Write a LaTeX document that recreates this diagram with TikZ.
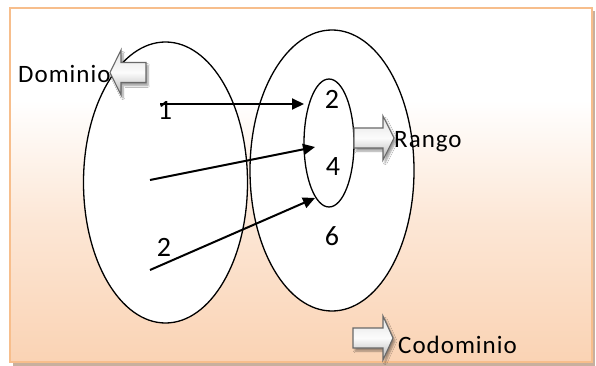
\documentclass[tikz,border=0pt]{standalone}
\usepackage{fontspec}
\setmainfont{Carlito}
\usetikzlibrary{shapes.geometric,arrows.meta,shadows.blur}
\definecolor{frameborder}{RGB}{247,190,140}
\definecolor{peach}{RGB}{250,211,180}
\definecolor{arrowedge}{RGB}{105,105,105}
\definecolor{frameshadow}{RGB}{200,176,158}
\pgfdeclareverticalshading{bgshade}{100bp}{color(0bp)=(peach); color(25bp)=(peach); color(45bp)=(peach!55!white); color(62bp)=(white); color(100bp)=(white)}
\begin{document}
\begin{tikzpicture}[x=1pt,y=-1pt,
  setel/.style={ellipse, draw, fill=white, line width=1.3pt, inner sep=0pt},
  lbl/.style={inner sep=0pt, anchor=base west, font=\fontsize{25}{30}\selectfont\addfontfeature{LetterSpace=4}},
  num/.style={inner sep=0pt, font=\fontsize{28}{32}\selectfont},
  maparrow/.style={line width=2pt, -{Triangle[length=12pt,width=11pt]}},
  blockarrow/.style={draw=arrowedge, line width=1.1pt, top color=gray!22, bottom color=gray!60, middle color=gray!3,
    blur shadow={shadow xshift=2pt, shadow yshift=-3pt, shadow blur steps=6, shadow opacity=40}}
]
\useasboundingbox (0,0) rectangle (596,366);
% frame
\fill[frameshadow] (13,11) rectangle (595,366);
\path[draw=frameborder, line width=2pt, shading=bgshade] (10,8) rectangle (592,362);
% sets
\node[setel, minimum width=164pt, minimum height=281pt] (dom) at (165.5,182.5) {};
\node[setel, minimum width=164pt, minimum height=281pt] (cod) at (332,170.5) {};
\node[setel, minimum width=50pt, minimum height=128pt] (ran) at (329,143) {};
% elements
\node[num] (a1) at (165,110) {1};
\node[num] (a2) at (164,247) {2};
\node[num] (b2) at (332,99) {2};
\node[num] (b4) at (333,167) {4};
\node[num] (b6) at (332,236) {6};
% mapping arrows
\coordinate (s1) at (160,104); \coordinate (t1) at (304,104);
\coordinate (s2) at (150,180); \coordinate (t2) at (315,147);
\coordinate (s3) at (150,270); \coordinate (t3) at (315,198);
\draw[maparrow] (s1) -- (t1);
\draw[maparrow] (s2) -- (t2);
\draw[maparrow] (s3) -- (t3);
% labels
\node[lbl] (ldom) at (18,83) {Dominio};
\node[lbl] (lran) at (394,147) {Rango};
\node[lbl] (lcod) at (398,353) {Codominio};
% block arrows
\path[blockarrow] (146,62.5) -- (121,62.5) -- (121,50) -- (110,72.5) -- (121,95) -- (121,82.5) -- (146,82.5) -- cycle;
\path[blockarrow] (354,128) -- (383,128) -- (383,116) -- (394,138) -- (383,160) -- (383,148) -- (354,148) -- cycle;
\path[blockarrow] (353,328) -- (383,328) -- (383,316) -- (393,338) -- (383,360) -- (383,348) -- (353,348) -- cycle;
\end{tikzpicture}
\end{document}
